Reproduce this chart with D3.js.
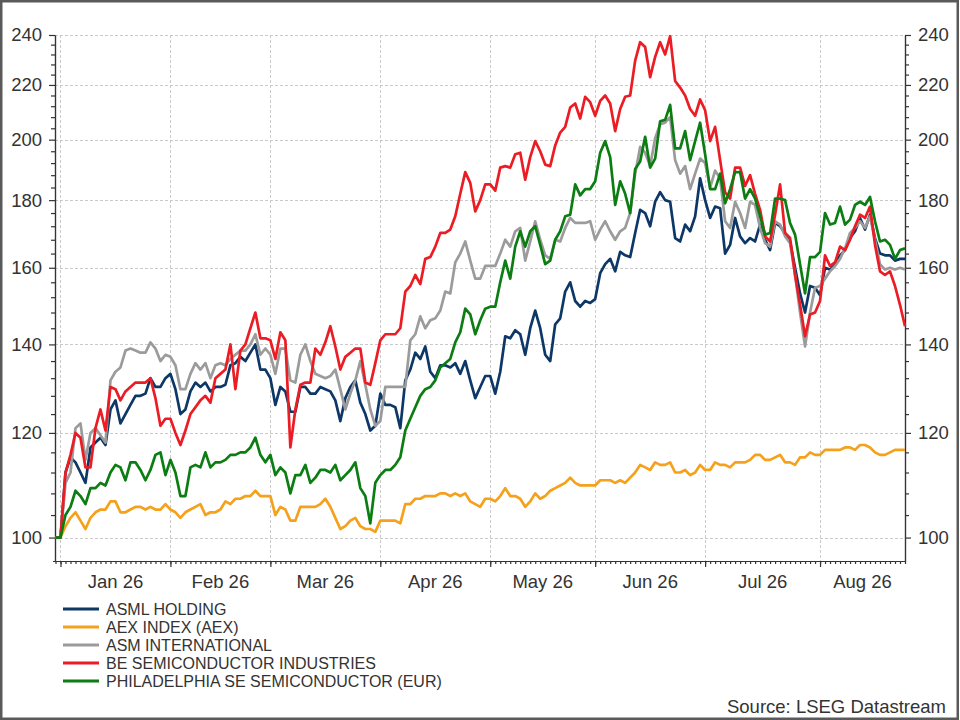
<!DOCTYPE html>
<html>
<head>
<meta charset="utf-8">
<script src="https://cdn.jsdelivr.net/npm/d3@7"></script>
<style>
  body { margin: 0; background: #fff; }
  svg { display: block; font-family: "Liberation Sans", Arial, sans-serif; }
</style>
</head>
<body>
<div id="chart"></div>
<script>
// Rebased to 100 on 31 Dec 2025, one value per weekday up to 26 Aug 2026
const asml = [
  100, 100, 112, 115, 114, 112, 110, 117, 118, 119,
  117.5, 125, 127, 122, 124, 126, 128, 128, 128.5, 132,
  130, 130, 132, 133, 129.5, 124, 125, 129, 131, 130,
  131, 129, 130, 130, 130.5, 135, 135.5, 137, 136, 138,
  140, 134, 134, 132, 126, 130, 129, 124.5, 124.5, 130,
  130, 128.5, 128.5, 130, 129.5, 129, 127, 122.5, 127.5, 130,
  131.5, 126.5, 124, 120.5, 121.5, 128.5, 126, 126, 125.5, 121,
  131.5, 134, 138, 136.5, 139.5, 133.5, 132, 135, 135, 134.5,
  135.5, 133, 136, 131.5, 127.5, 130, 132.5, 132.5, 128.5, 133.5,
  142, 141.5, 143.5, 142.5, 137.5, 144, 148.5, 144, 137.5, 136,
  145, 146.5, 153.5, 156, 151, 149.5, 151, 150.5, 151.5, 158.5,
  161, 162.5, 159, 164.5, 163.5, 163, 170, 177, 176, 172,
  179.5, 182.5, 180, 179.5, 168.5, 167.5, 172.5, 170.5, 175, 187,
  180, 174.5, 178, 177.5, 164, 166.5, 174.5, 169, 167, 168.5,
  167.5, 172.5, 168, 165, 173, 172, 170, 167.5, 160, 153,
  148, 155, 154.5, 152.5, 160, 159.5, 161, 163.5, 165, 168.5,
  170.5, 174.5, 171, 175.5, 168.5, 164, 163.5, 163.5, 162, 162.5,
  162.5
];
const aex = [
  100, 100, 102, 103.5, 104.5, 103, 101.5, 103.5, 104.5, 105,
  105, 106.5, 106.5, 104.5, 104.5, 105, 105.5, 105.5, 105, 105.5,
  105, 105, 106, 105, 104.5, 103.5, 104.5, 105, 105.5, 106,
  104, 104.5, 104.5, 105, 106.5, 106, 107, 107, 107.5, 107.5,
  108.5, 107.5, 107.5, 107.5, 104, 105.5, 105, 103, 103, 105.5,
  105.5, 105.5, 105.5, 106, 107, 105.5, 103.5, 101.5, 102, 103,
  103.5, 102, 101.5, 101.5, 101, 103, 103, 103, 103, 102.5,
  106, 106, 107, 107, 107.5, 107.5, 107.5, 108, 108, 107.5,
  108, 107.5, 108, 106.5, 106, 105.5, 107, 107, 106.5, 107.5,
  109, 107.5, 107.5, 107, 105.5, 106.5, 108, 107, 107.5, 108.5,
  109, 109.5, 110, 111, 110, 109.5, 109.5, 109.5, 109.5, 110.5,
  110.5, 110.5, 110, 110.5, 110, 111, 112, 113.5, 113, 112.5,
  114, 113.5, 113.5, 114, 112, 112, 112.5, 111.5, 112, 113.5,
  112.5, 112.5, 114, 113.5, 113.5, 113, 114, 114, 114, 114.5,
  115.5, 115.5, 114.5, 114.5, 115, 115.5, 114, 114, 113.5, 115,
  115, 116, 115.5, 115.5, 116.5, 116.5, 116.5, 116.5, 117, 117,
  116.5, 117.5, 117.5, 117, 116, 115.5, 115.5, 116, 116.5, 116.5,
  116.5
];
const asmi = [
  100, 100, 110, 112, 121, 122, 114.5, 120, 121, 119.5,
  118, 131.5, 133.5, 134.5, 138.5, 139, 138.5, 138, 138, 140.5,
  139, 136, 137.5, 137, 135, 129.5, 129.5, 133, 135.5, 134,
  135.5, 132, 135, 135.5, 135, 136.5, 137.5, 138.5, 138.5, 140,
  142.5, 137.5, 139, 137.5, 133, 139, 139, 131.5, 131, 137.5,
  140, 136, 133, 132.5, 132, 132.5, 134, 129.5, 125, 128.5,
  131.5, 136, 130.5, 125, 121.5, 122.5, 130, 130, 130, 130,
  130, 141, 142.5, 147, 144, 146, 146.5, 148.5, 153.5, 153,
  161.5, 164, 167.5, 162, 157, 157, 160.5, 160.5, 160.5, 164,
  168, 166, 170.5, 171.5, 162, 167.5, 173.5, 168, 163.5, 162.5,
  168, 167.5, 171.5, 174.5, 173, 173, 173, 173.5, 168, 171,
  173.5, 170.5, 168, 170.5, 171.5, 176, 188.5, 197.5, 195.5, 191,
  200.5, 205.5, 206, 208, 193, 188.5, 191, 183.5, 188.5, 193.5,
  192, 184, 189.5, 187, 173.5, 171.5, 179.5, 176, 171.5, 179.5,
  178.5, 171.5, 167, 166, 173.5, 172.5, 169, 167, 158, 148,
  139.5, 148, 154.5, 155, 157, 159, 160.5, 162.5, 165.5, 170,
  171.5, 173.5, 171.5, 175, 168, 161, 159.5, 160, 159.5, 160,
  159.5
];
const besi = [
  100, 100, 112, 115.5, 120, 119, 113, 113, 121, 125,
  120.5, 130, 129.5, 127, 129, 130, 131, 131, 131, 132,
  127.5, 121.5, 123, 123, 120, 117.5, 120.5, 124, 125.5, 127,
  128, 126.5, 132, 133, 134, 140, 129.5, 138.5, 140, 144,
  148, 141.5, 141.5, 141, 136.5, 143, 141, 117, 125, 130.5,
  131, 131, 139, 137.5, 140.5, 144.5, 139.5, 134, 137, 138,
  139, 139, 131, 130.5, 135.5, 141, 142.5, 142.5, 142.5, 144,
  153.5, 155, 158, 155.5, 162.5, 163, 166, 170, 170, 171,
  175, 182, 189, 185.5, 176.5, 180, 185, 185, 183, 190.5,
  191, 190.5, 195, 195.5, 186.5, 194, 199.5, 196, 191.5, 191,
  198, 202.5, 204.5, 211.5, 213, 207.5, 215.5, 213.5, 208.5, 214,
  216, 213, 203, 211, 215.5, 216, 229.5, 237, 235, 223,
  231, 237, 232, 239.5, 221.5, 219, 216, 211, 208.5, 214.5,
  210.5, 199.5, 204.5, 193, 182.5, 180.5, 190.5, 190.5, 184.5, 188,
  182, 177, 169, 167.5, 175.5, 185, 170, 168.5, 158, 150,
  142, 147.5, 148, 151, 163.5, 160.5, 161.5, 166, 165, 168,
  172, 175.5, 174.5, 178, 166.5, 159, 158, 159, 155, 150,
  144.5
];
const sox = [
  100, 100, 104, 105.5, 108.5, 107.5, 106, 109, 109, 110,
  109.5, 112, 113.5, 113, 110.5, 114, 114, 112.5, 110.5, 112.5,
  115.5, 116, 111.5, 114.5, 112, 107.5, 107.5, 113, 113.5, 113,
  116, 113, 114, 114, 114.5, 115.5, 115.5, 116, 116, 117,
  119, 115.5, 114, 115.5, 111.5, 113, 112, 108, 111.5, 111.5,
  113.5, 110, 111, 112.5, 112.5, 112, 113.5, 110.5, 111.5, 112.5,
  114, 109, 107.5, 102.5, 110, 111.5, 112.5, 112.5, 113.5, 115,
  120.5, 123, 125.5, 128, 129.5, 130, 131.5, 134.5, 135.5, 136.5,
  140.5, 143, 149, 147.5, 142.5, 146, 149, 149.5, 149.5, 156,
  162, 157, 166, 170.5, 166, 170.5, 172, 166.5, 161, 162,
  168, 170.5, 175, 175.5, 185, 181.5, 183.5, 183.5, 186, 195.5,
  199.5, 194, 178.5, 186, 182, 176, 190, 192.5, 201, 190.5,
  193.5, 206.5, 207, 212.5, 197, 197, 203, 193, 199.5, 206,
  195, 183.5, 183.5, 188.5, 179, 183.5, 189, 189, 180.5, 183.5,
  180.5, 175, 169.5, 170, 180.5, 180.5, 180, 173, 169.5, 161,
  153, 163, 163, 164.5, 176, 172.5, 173, 178, 172.5, 174,
  178.5, 179.5, 178.5, 181, 173.5, 167.5, 168, 166.5, 162.5, 165,
  165.5
];

const seriesNames = [
  'ASML HOLDING',
  'AEX INDEX (AEX)',
  'ASM INTERNATIONAL',
  'BE SEMICONDUCTOR INDUSTRIES',
  'PHILADELPHIA SE SEMICONDUCTOR (EUR)'
];
const seriesValues = [asml, aex, asmi, besi, sox];
const seriesColors = ['#0d3767', '#f5a11c', '#9b9b9b', '#ec1c24', '#0c7d12'];

const yMajorTicks = [100, 120, 140, 160, 180, 200, 220, 240];
const yMinorTicks = d3.range(104, 240, 4).filter(v => v % 20 !== 0);

// weekday calendar from 31 Dec 2025 to 26 Aug 2026
const dates = d3.utcDay
  .range(new Date(Date.UTC(2025, 11, 31)), new Date(Date.UTC(2026, 7, 27)))
  .filter(d => d.getUTCDay() !== 0 && d.getUTCDay() !== 6);

const width = 960, height = 720;
const plotLeft = 55, plotRight = 905, plotTop = 35, plotBottom = 561;
const font = '"Liberation Sans", Arial, sans-serif';

const svg = d3.select('#chart').append('svg')
  .attr('width', width)
  .attr('height', height);

svg.append('rect')
  .attr('x', 1.25).attr('y', 1.25)
  .attr('width', width - 3.5).attr('height', height - 2.5)
  .attr('fill', '#fff')
  .attr('stroke', '#5a5a5a')
  .attr('stroke-width', 2.5);

const x = d3.scaleLinear().domain([0, dates.length - 1]).range([plotLeft + 0.5, plotRight]);
const y = d3.scaleLog().domain([96, 240]).range([plotBottom, plotTop]);

// first weekday of each month
const monthStarts = dates
  .map((d, i) => i)
  .filter(i => i > 0 && dates[i].getUTCMonth() !== dates[i - 1].getUTCMonth());

// grid
const grid = svg.append('g')
  .attr('stroke', '#c4c4c4')
  .attr('stroke-width', 0.9)
  .attr('stroke-dasharray', '3,2');
grid.selectAll('.hg')
  .data(yMajorTicks)
  .join('line')
  .attr('x1', plotLeft).attr('x2', plotRight)
  .attr('y1', d => Math.round(y(d)) + 0.5)
  .attr('y2', d => Math.round(y(d)) + 0.5);
grid.selectAll('.vg')
  .data(monthStarts)
  .join('line')
  .attr('x1', d => Math.round(x(d)) + 0.5)
  .attr('x2', d => Math.round(x(d)) + 0.5)
  .attr('y1', plotTop).attr('y2', plotBottom);

// axes
function styleAxis(g) {
  g.selectAll('path, line').attr('stroke', '#333').attr('stroke-width', 1.2);
  g.selectAll('text')
    .attr('fill', '#333')
    .style('font-family', font)
    .style('font-size', '18.5px');
}

svg.append('g')
  .attr('transform', `translate(${plotLeft},0)`)
  .call(d3.axisLeft(y).tickValues(yMinorTicks).tickSize(4).tickSizeOuter(0).tickFormat(''))
  .call(styleAxis);
svg.append('g')
  .attr('transform', `translate(${plotLeft},0)`)
  .call(d3.axisLeft(y).tickValues(yMajorTicks).tickSize(6).tickSizeOuter(0)
    .tickPadding(7).tickFormat(d3.format('d')))
  .call(styleAxis);

svg.append('g')
  .attr('transform', `translate(${plotRight},0)`)
  .call(d3.axisRight(y).tickValues(yMinorTicks).tickSize(4).tickSizeOuter(0).tickFormat(''))
  .call(styleAxis);
svg.append('g')
  .attr('transform', `translate(${plotRight},0)`)
  .call(d3.axisRight(y).tickValues(yMajorTicks).tickSize(6).tickSizeOuter(0)
    .tickPadding(7).tickFormat(d3.format('d')))
  .call(styleAxis);

const xAxisMinor = svg.append('g')
  .attr('transform', `translate(0,${plotBottom})`)
  .call(d3.axisBottom(x).tickValues(d3.range(dates.length)).tickSize(3).tickSizeOuter(0).tickFormat(''))
  .call(styleAxis);
xAxisMinor.select('.domain').attr('d', `M${plotLeft - 2},0.5H${plotRight}`);
svg.append('g')
  .attr('transform', `translate(0,${plotBottom})`)
  .call(d3.axisBottom(x).tickValues(monthStarts).tickSize(6).tickSizeOuter(0).tickFormat(''))
  .call(styleAxis)
  .select('.domain').remove();

// month labels centred inside each month
const monthBounds = monthStarts.concat([dates.length - 1]);
svg.append('g')
  .selectAll('text')
  .data(monthStarts)
  .join('text')
  .attr('x', (d, i) => (x(d) + x(monthBounds[i + 1])) / 2)
  .attr('y', 588)
  .attr('text-anchor', 'middle')
  .attr('fill', '#333')
  .style('font-family', font)
  .style('font-size', '18.5px')
  .text(d => d3.utcFormat('%b %y')(dates[d]));

// lines
const line = d3.line()
  .x((d, i) => x(i))
  .y(d => y(d));

const plot = svg.append('g');
seriesValues.forEach((vals, k) => {
  plot.append('path')
    .datum(vals)
    .attr('fill', 'none')
    .attr('stroke', seriesColors[k])
    .attr('stroke-width', 2.7)
    .attr('stroke-linejoin', 'round')
    .attr('d', line);
});

// legend
const legend = svg.append('g')
  .selectAll('g')
  .data(seriesNames)
  .join('g')
  .attr('transform', (d, i) => `translate(63,${609 + i * 18})`);
legend.append('line')
  .attr('x1', 0).attr('x2', 36)
  .attr('stroke', (d, i) => seriesColors[i])
  .attr('stroke-width', 3);
legend.append('text')
  .attr('x', 43)
  .attr('y', 6)
  .attr('fill', '#333')
  .style('font-family', font)
  .style('font-size', '16px')
  .text(d => d);

svg.append('text')
  .attr('x', 946)
  .attr('y', 713)
  .attr('text-anchor', 'end')
  .attr('fill', '#333')
  .style('font-family', font)
  .style('font-size', '18.5px')
  .text('Source: LSEG Datastream');
</script>
</body>
</html>
